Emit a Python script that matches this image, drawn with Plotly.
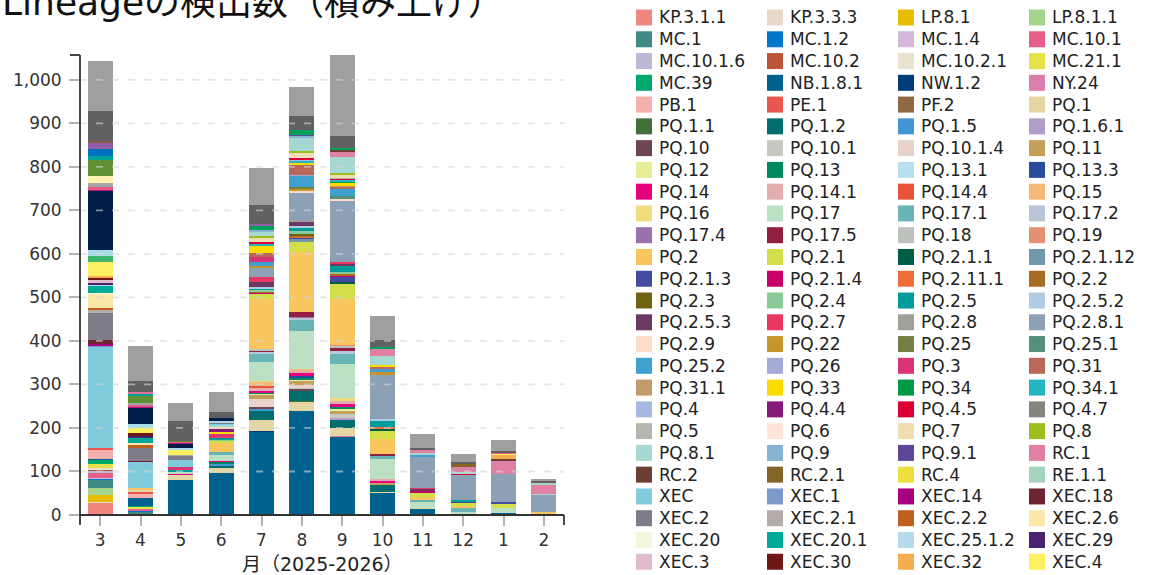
import plotly.graph_objects as go

# ---------------- data ----------------
months = ["3", "4", "5", "6", "7", "8", "9", "10", "11", "12", "1", "2"]

KP_3_1_1 = [29, 0, 0, 0, 0, 0, 0, 0, 0, 0, 0, 0]
KP_3_3_3 = [2, 0, 0, 0, 0, 0, 0, 0, 0, 0, 0, 0]
LP_8_1 = [15, 2, 0, 0, 0, 0, 0, 0, 0, 0, 0, 0]
LP_8_1_1 = [15, 2, 0, 0, 2, 0, 0, 0, 0, 0, 0, 0]
MC_1 = [21, 4, 0, 0, 0, 0, 0, 0, 0, 0, 0, 0]
MC_1_2 = [2, 3, 0, 0, 0, 0, 0, 0, 0, 0, 0, 0]
MC_1_4 = [1, 0, 0, 0, 0, 0, 0, 0, 0, 0, 0, 0]
MC_10_1 = [13, 4, 2, 0, 0, 0, 0, 0, 0, 0, 0, 0]
MC_10_1_6 = [2, 0, 0, 0, 0, 0, 0, 0, 0, 0, 0, 0]
MC_10_2 = [5, 0, 0, 0, 0, 0, 0, 0, 0, 0, 0, 0]
MC_10_2_1 = [4, 0, 0, 0, 0, 0, 0, 0, 0, 0, 0, 0]
MC_21_1 = [8, 4, 0, 2, 0, 0, 0, 0, 0, 0, 0, 0]
MC_39 = [10, 2, 0, 0, 0, 0, 0, 0, 0, 0, 0, 0]
NB_1_8_1 = [2, 18, 79, 94, 190, 240, 180, 52, 14, 2, 5, 0]
NW_1_2 = [0, 0, 0, 0, 2, 0, 0, 0, 0, 0, 0, 0]
NY_24 = [0, 0, 0, 0, 0, 0, 2, 0, 0, 0, 0, 0]
PB_1 = [22, 10, 0, 0, 0, 0, 0, 0, 0, 0, 0, 0]
PE_1 = [3, 5, 0, 0, 0, 0, 0, 0, 0, 0, 0, 0]
PF_2 = [0, 1, 0, 0, 0, 0, 0, 0, 0, 0, 0, 0]
PQ_1 = [1, 4, 11, 11, 25, 21, 17, 2, 3, 0, 0, 0]
PQ_1_1 = [0, 0, 0, 0, 0, 1, 0, 0, 0, 0, 0, 0]
PQ_1_2 = [0, 0, 0, 6, 19, 23, 19, 14, 0, 0, 0, 0]
PQ_1_5 = [0, 0, 0, 5, 6, 0, 0, 0, 0, 0, 0, 0]
PQ_1_6_1 = [0, 0, 0, 0, 0, 0, 6, 0, 0, 0, 0, 0]
PQ_10 = [0, 0, 0, 0, 4, 4, 0, 0, 0, 0, 0, 0]
PQ_10_1 = [0, 0, 0, 0, 0, 5, 8, 0, 0, 0, 0, 0]
PQ_10_1_4 = [0, 0, 0, 0, 18, 4, 0, 0, 0, 0, 0, 0]
PQ_11 = [0, 0, 0, 0, 10, 10, 8, 5, 0, 0, 0, 0]
PQ_12 = [0, 0, 0, 0, 3, 4, 5, 0, 0, 0, 0, 0]
PQ_13 = [0, 0, 0, 4, 3, 3, 3, 0, 0, 0, 0, 0]
PQ_13_1 = [0, 0, 0, 0, 0, 1, 0, 0, 0, 0, 0, 0]
PQ_13_3 = [0, 0, 0, 0, 0, 3, 0, 0, 0, 0, 0, 0]
PQ_14 = [0, 0, 2, 3, 4, 9, 7, 6, 0, 0, 0, 0]
PQ_14_1 = [0, 0, 0, 0, 6, 3, 7, 3, 0, 0, 0, 0]
PQ_14_4 = [0, 0, 0, 0, 4, 2, 0, 0, 0, 0, 0, 0]
PQ_15 = [0, 0, 0, 0, 11, 3, 0, 0, 0, 0, 0, 0]
PQ_16 = [0, 0, 0, 0, 2, 0, 6, 0, 0, 0, 0, 0]
PQ_17 = [0, 0, 7, 14, 42, 87, 78, 47, 15, 5, 11, 0]
PQ_17_1 = [0, 0, 0, 5, 21, 27, 25, 6, 3, 10, 0, 2]
PQ_17_2 = [0, 0, 0, 0, 2, 3, 6, 0, 0, 0, 0, 0]
PQ_17_4 = [0, 0, 0, 0, 0, 3, 0, 0, 0, 0, 0, 0]
PQ_17_5 = [0, 0, 0, 0, 5, 11, 7, 6, 0, 0, 0, 0]
PQ_18 = [0, 0, 0, 0, 3, 0, 5, 0, 0, 0, 0, 0]
PQ_19 = [0, 0, 0, 0, 0, 0, 1, 0, 0, 0, 0, 0]
PQ_2 = [0, 3, 0, 22, 115, 137, 107, 34, 6, 3, 0, 5]
PQ_2_1 = [0, 0, 0, 5, 11, 24, 34, 19, 9, 9, 10, 0]
PQ_2_1_1 = [0, 0, 0, 0, 0, 0, 5, 3, 0, 0, 0, 0]
PQ_2_1_12 = [0, 0, 0, 0, 0, 7, 0, 0, 0, 0, 0, 0]
PQ_2_1_3 = [0, 0, 0, 0, 0, 3, 10, 0, 0, 2, 5, 0]
PQ_2_1_4 = [0, 0, 0, 0, 3, 0, 5, 0, 5, 0, 0, 0]
PQ_2_11_1 = [0, 0, 0, 0, 0, 1, 0, 5, 0, 0, 0, 0]
PQ_2_2 = [0, 0, 0, 0, 2, 4, 2, 0, 0, 0, 0, 0]
PQ_2_3 = [0, 0, 0, 0, 0, 3, 0, 0, 0, 0, 0, 0]
PQ_2_4 = [0, 0, 0, 3, 5, 7, 5, 0, 0, 0, 0, 0]
PQ_2_5 = [0, 0, 3, 3, 3, 7, 14, 13, 0, 4, 0, 0]
PQ_2_5_2 = [0, 0, 0, 0, 3, 3, 0, 5, 0, 0, 0, 0]
PQ_2_5_3 = [0, 0, 0, 0, 11, 11, 5, 0, 5, 0, 0, 0]
PQ_2_7 = [0, 0, 3, 5, 11, 0, 4, 0, 3, 0, 0, 0]
PQ_2_8 = [0, 0, 0, 0, 0, 5, 0, 0, 0, 0, 0, 0]
PQ_2_8_1 = [0, 0, 0, 0, 22, 61, 140, 102, 71, 57, 63, 40]
PQ_2_9 = [0, 0, 0, 0, 0, 5, 7, 0, 0, 0, 0, 0]
PQ_22 = [0, 0, 0, 0, 5, 5, 0, 6, 0, 0, 0, 0]
PQ_25 = [0, 0, 0, 0, 0, 4, 0, 0, 0, 0, 0, 0]
PQ_25_1 = [0, 0, 0, 0, 0, 0, 4, 0, 0, 0, 0, 0]
PQ_25_2 = [0, 0, 0, 0, 8, 25, 17, 9, 3, 0, 0, 0]
PQ_26 = [0, 0, 0, 0, 0, 3, 0, 0, 0, 0, 0, 0]
PQ_3 = [0, 0, 3, 4, 12, 0, 0, 0, 0, 0, 0, 0]
PQ_31 = [0, 0, 0, 0, 10, 22, 6, 4, 0, 0, 0, 0]
PQ_31_1 = [0, 0, 0, 0, 0, 0, 1, 0, 0, 0, 0, 0]
PQ_33 = [0, 0, 0, 7, 16, 7, 6, 3, 0, 0, 0, 0]
PQ_34 = [0, 0, 0, 0, 0, 0, 5, 0, 0, 0, 0, 0]
PQ_34_1 = [0, 0, 0, 0, 4, 3, 3, 0, 0, 0, 0, 0]
PQ_4 = [0, 0, 0, 0, 0, 3, 0, 0, 0, 0, 0, 0]
PQ_4_4 = [0, 0, 0, 4, 0, 0, 0, 0, 0, 0, 0, 0]
PQ_4_5 = [0, 0, 0, 0, 4, 4, 3, 0, 0, 3, 0, 0]
PQ_4_7 = [0, 0, 0, 0, 0, 1, 0, 0, 0, 0, 0, 0]
PQ_5 = [0, 0, 0, 0, 0, 0, 1, 0, 0, 0, 0, 0]
PQ_6 = [0, 0, 0, 0, 0, 1, 0, 0, 0, 0, 0, 0]
PQ_7 = [0, 0, 0, 5, 9, 8, 7, 0, 0, 0, 0, 0]
PQ_8 = [0, 0, 0, 0, 5, 5, 5, 0, 0, 0, 0, 0]
PQ_8_1 = [0, 0, 0, 5, 10, 32, 37, 21, 6, 3, 0, 2]
PQ_9 = [0, 0, 0, 0, 3, 4, 0, 0, 0, 0, 0, 0]
PQ_9_1 = [0, 0, 0, 0, 0, 1, 0, 0, 0, 0, 0, 0]
RC_1 = [0, 0, 0, 0, 0, 0, 11, 17, 8, 13, 31, 21]
RC_2 = [0, 0, 0, 0, 0, 0, 5, 0, 0, 0, 4, 0]
RC_2_1 = [0, 0, 0, 0, 0, 0, 0, 0, 0, 6, 0, 0]
RC_4 = [0, 0, 0, 0, 0, 0, 0, 1, 0, 0, 0, 0]
RE_1_1 = [0, 0, 0, 0, 0, 0, 0, 0, 0, 0, 0, 4]
XEC = [233, 60, 17, 3, 0, 0, 0, 0, 0, 0, 0, 0]
XEC_1 = [1, 0, 0, 0, 0, 0, 0, 0, 0, 0, 0, 0]
XEC_14 = [5, 0, 0, 0, 0, 0, 0, 0, 0, 0, 0, 0]
XEC_18 = [7, 3, 0, 0, 0, 0, 0, 0, 0, 0, 0, 0]
XEC_2 = [64, 28, 9, 2, 0, 0, 0, 0, 0, 0, 0, 0]
XEC_2_1 = [5, 0, 3, 0, 0, 0, 0, 0, 0, 0, 0, 0]
XEC_2_2 = [6, 7, 0, 0, 0, 0, 0, 0, 0, 0, 0, 0]
XEC_2_6 = [34, 5, 0, 0, 0, 0, 0, 0, 0, 0, 0, 0]
XEC_20 = [1, 0, 0, 0, 0, 0, 0, 0, 0, 0, 0, 0]
XEC_20_1 = [16, 14, 0, 0, 0, 0, 0, 0, 0, 0, 0, 0]
XEC_25_1_2 = [1, 0, 0, 0, 0, 0, 0, 0, 0, 0, 0, 0]
XEC_29 = [7, 2, 0, 0, 0, 0, 0, 0, 0, 0, 0, 0]
XEC_3 = [4, 0, 0, 0, 0, 0, 0, 0, 0, 0, 0, 0]
XEC_30 = [7, 7, 0, 0, 0, 0, 0, 0, 0, 0, 0, 0]
XEC_32 = [4, 0, 0, 0, 0, 0, 0, 0, 0, 0, 10, 0]
XEC_4 = [32, 13, 12, 0, 0, 0, 0, 0, 0, 0, 2, 0]
# lineages whose legend rows fall below the visible window
XEC_5 = [14, 0, 0, 0, 0, 0, 0, 0, 0, 0, 0, 0]
XEC_6 = [14, 7, 3, 3, 0, 0, 0, 0, 0, 0, 0, 0]
XEC_8 = [135, 38, 10, 8, 0, 0, 0, 0, 0, 0, 0, 0]
XEC_9 = [4, 4, 2, 0, 0, 0, 0, 0, 0, 0, 0, 0]
XEK = [4, 4, 2, 0, 0, 0, 0, 0, 0, 0, 3, 0]
XEQ = [11, 3, 0, 0, 0, 0, 0, 0, 0, 0, 0, 0]
XER = [14, 0, 0, 0, 0, 0, 0, 0, 0, 0, 0, 0]
XFB = [38, 18, 3, 0, 0, 0, 0, 0, 0, 0, 0, 0]
XFC = [10, 3, 0, 0, 0, 0, 0, 0, 0, 0, 0, 0]
XFG = [16, 0, 0, 0, 0, 0, 0, 0, 0, 0, 0, 0]
XFG_1 = [0, 0, 0, 0, 11, 11, 5, 3, 0, 0, 0, 0]
XFG_2 = [13, 0, 0, 0, 3, 0, 0, 0, 0, 0, 0, 0]
XFG_3 = [5, 0, 0, 0, 0, 0, 0, 0, 0, 0, 0, 0]
XFJ = [0, 5, 0, 0, 0, 0, 0, 0, 0, 0, 0, 0]
XFV = [69, 25, 45, 13, 44, 33, 28, 15, 4, 5, 4, 4]
OTHERS = [115, 80, 42, 46, 85, 67, 185, 56, 31, 18, 25, 5]

series = [
    ("KP.3.1.1", KP_3_1_1), ("KP.3.3.3", KP_3_3_3), ("LP.8.1", LP_8_1), ("LP.8.1.1", LP_8_1_1),
    ("MC.1", MC_1), ("MC.1.2", MC_1_2), ("MC.1.4", MC_1_4), ("MC.10.1", MC_10_1),
    ("MC.10.1.6", MC_10_1_6), ("MC.10.2", MC_10_2), ("MC.10.2.1", MC_10_2_1), ("MC.21.1", MC_21_1),
    ("MC.39", MC_39), ("NB.1.8.1", NB_1_8_1), ("NW.1.2", NW_1_2), ("NY.24", NY_24),
    ("PB.1", PB_1), ("PE.1", PE_1), ("PF.2", PF_2), ("PQ.1", PQ_1),
    ("PQ.1.1", PQ_1_1), ("PQ.1.2", PQ_1_2), ("PQ.1.5", PQ_1_5), ("PQ.1.6.1", PQ_1_6_1),
    ("PQ.10", PQ_10), ("PQ.10.1", PQ_10_1), ("PQ.10.1.4", PQ_10_1_4), ("PQ.11", PQ_11),
    ("PQ.12", PQ_12), ("PQ.13", PQ_13), ("PQ.13.1", PQ_13_1), ("PQ.13.3", PQ_13_3),
    ("PQ.14", PQ_14), ("PQ.14.1", PQ_14_1), ("PQ.14.4", PQ_14_4), ("PQ.15", PQ_15),
    ("PQ.16", PQ_16), ("PQ.17", PQ_17), ("PQ.17.1", PQ_17_1), ("PQ.17.2", PQ_17_2),
    ("PQ.17.4", PQ_17_4), ("PQ.17.5", PQ_17_5), ("PQ.18", PQ_18), ("PQ.19", PQ_19),
    ("PQ.2", PQ_2), ("PQ.2.1", PQ_2_1), ("PQ.2.1.1", PQ_2_1_1), ("PQ.2.1.12", PQ_2_1_12),
    ("PQ.2.1.3", PQ_2_1_3), ("PQ.2.1.4", PQ_2_1_4), ("PQ.2.11.1", PQ_2_11_1), ("PQ.2.2", PQ_2_2),
    ("PQ.2.3", PQ_2_3), ("PQ.2.4", PQ_2_4), ("PQ.2.5", PQ_2_5), ("PQ.2.5.2", PQ_2_5_2),
    ("PQ.2.5.3", PQ_2_5_3), ("PQ.2.7", PQ_2_7), ("PQ.2.8", PQ_2_8), ("PQ.2.8.1", PQ_2_8_1),
    ("PQ.2.9", PQ_2_9), ("PQ.22", PQ_22), ("PQ.25", PQ_25), ("PQ.25.1", PQ_25_1),
    ("PQ.25.2", PQ_25_2), ("PQ.26", PQ_26), ("PQ.3", PQ_3), ("PQ.31", PQ_31),
    ("PQ.31.1", PQ_31_1), ("PQ.33", PQ_33), ("PQ.34", PQ_34), ("PQ.34.1", PQ_34_1),
    ("PQ.4", PQ_4), ("PQ.4.4", PQ_4_4), ("PQ.4.5", PQ_4_5), ("PQ.4.7", PQ_4_7),
    ("PQ.5", PQ_5), ("PQ.6", PQ_6), ("PQ.7", PQ_7), ("PQ.8", PQ_8),
    ("PQ.8.1", PQ_8_1), ("PQ.9", PQ_9), ("PQ.9.1", PQ_9_1), ("RC.1", RC_1),
    ("RC.2", RC_2), ("RC.2.1", RC_2_1), ("RC.4", RC_4), ("RE.1.1", RE_1_1),
    ("XEC", XEC), ("XEC.1", XEC_1), ("XEC.14", XEC_14), ("XEC.18", XEC_18),
    ("XEC.2", XEC_2), ("XEC.2.1", XEC_2_1), ("XEC.2.2", XEC_2_2), ("XEC.2.6", XEC_2_6),
    ("XEC.20", XEC_20), ("XEC.20.1", XEC_20_1), ("XEC.25.1.2", XEC_25_1_2), ("XEC.29", XEC_29),
    ("XEC.3", XEC_3), ("XEC.30", XEC_30), ("XEC.32", XEC_32), ("XEC.4", XEC_4),
    ("XEC.5", XEC_5), ("XEC.6", XEC_6), ("XEC.8", XEC_8), ("XEC.9", XEC_9),
    ("XEK", XEK), ("XEQ", XEQ), ("XER", XER), ("XFB", XFB),
    ("XFC", XFC), ("XFG", XFG), ("XFG.1", XFG_1), ("XFG.2", XFG_2),
    ("XFG.3", XFG_3), ("XFJ", XFJ), ("XFV", XFV), ("その他", OTHERS),
]

colors = [
    "#F0877F", "#E8DACB", "#E8BC00", "#A6D48C",
    "#3F8A86", "#0076C8", "#D3B8DA", "#E8608A",
    "#BAB8D2", "#BA5538", "#EAE2D0", "#E6E34A",
    "#00A86A", "#00608E", "#003C78", "#DA7EAE",
    "#F4B0AC", "#EA5550", "#8E6A44", "#E3D6A2",
    "#417138", "#006D6E", "#4296D4", "#B29CCA",
    "#6E4652", "#C8C8C2", "#E8D2CA", "#C4A05C",
    "#E8EE98", "#00885E", "#B8E0F0", "#284C9C",
    "#E4007E", "#E2ADAE", "#E8543A", "#F6B878",
    "#F0DE7E", "#BCE0C4", "#68B4B6", "#B8C6D8",
    "#9A72B2", "#921E40", "#BEC2BC", "#E49272",
    "#F8C65C", "#D2DE4A", "#005E46", "#7098AA",
    "#434CA0", "#C8006A", "#EE6E36", "#A96A24",
    "#6E6410", "#8ACA98", "#009C9C", "#B0CCE4",
    "#6A3862", "#EA3662", "#A0A098", "#8CA0B6",
    "#FCDCCA", "#C6962E", "#767E42", "#54907C",
    "#40A0D0", "#A4AAD6", "#D83476", "#BC6858",
    "#C49A6C", "#FCDC00", "#009A46", "#24B6C0",
    "#A4B8E0", "#861A78", "#DA0034", "#86867E",
    "#B6B6AE", "#FCE4D8", "#EEDEB2", "#9EBE1E",
    "#A4D8D0", "#88B4D4", "#5E4698", "#E080A4",
    "#6E3E34", "#846428", "#EEDE40", "#A2D4BE",
    "#80CCDC", "#7E9ACC", "#A80080", "#6E2430",
    "#7E7C88", "#B4ACAA", "#BE6020", "#FCE8A8",
    "#F2F8DC", "#00AA98", "#B8D8F0", "#4A2470",
    "#E0BCCC", "#6E1818", "#F4AE50", "#FCF060",
    "#3DB56F", "#A9DCE6", "#021E48", "#B0177A",
    "#E35B86", "#A6A6A6", "#FFF2B3", "#5E9232",
    "#00A19A", "#006FBE", "#00A05A", "#8F5EA6",
    "#8B5A45", "#E0709A", "#616163", "#A09F9D",
]

ytick_values = [0, 100, 200, 300, 400, 500, 600, 700, 800, 900, 1000]
title_text = "Lineageの検出数（積み上げ）"
xaxis_title = "月（2025-2026）"

# ---------------- layout constants ----------------
W, H = 1157, 575
ML, MR, MT, MB = 80, 593, 55, 60
PW = W - ML - MR
PH = H - MT - MB
FONT = "DejaVu Sans, Noto Sans CJK JP, sans-serif"
AXIS_COLOR = "#333333"
TICK_COLOR = "#b4b4b4"

LEG_X0 = 636       # swatch left of first column (px)
LEG_COL = 131      # column pitch (px)
LEG_Y0 = 17.5      # centre of first row (px)
LEG_ROW = 21.77    # row pitch (px)
LEG_COLS = 4
LEG_SW = 16
LEG_ROWS_VISIBLE = 26


def px_to_paper_x(px):
    return (px - ML) / PW


def px_to_paper_y(py):
    return (H - MB - py) / PH


fig = go.Figure()
for (name, vals), col in zip(series, colors):
    fig.add_trace(go.Bar(
        x=months, y=vals, name=name,
        marker=dict(color=col, line=dict(width=0)),
        showlegend=False,
        hovertemplate=name + ": %{y}<extra></extra>",
    ))

totals = [sum(v[i] for _, v in series) for i in range(len(months))]
ymax = max(totals)

shapes = []
# dashed grid lines drawn above the bars
for v in ytick_values[1:]:
    shapes.append(dict(type="line", xref="paper", x0=0, x1=1, yref="y", y0=v, y1=v,
                       layer="above",
                       line=dict(color="rgba(214,214,214,0.6)", width=1.8, dash="7px,9px")))
# axis domain lines with outer ticks
ax_line = dict(color=AXIS_COLOR, width=1.8)
shapes += [
    dict(type="line", xref="paper", yref="paper", x0=0, x1=0, y0=0, y1=1, line=ax_line),
    dict(type="line", xref="paper", yref="paper", x0=0, x1=1, y0=0, y1=0, line=ax_line),
    dict(type="line", xref="paper", yref="paper", xsizemode="pixel", xanchor=0,
         x0=-10, x1=0, y0=1, y1=1, line=ax_line),
    dict(type="line", xref="paper", yref="paper", ysizemode="pixel", yanchor=0,
         x0=0, x1=0, y0=0, y1=-10, line=ax_line),
    dict(type="line", xref="paper", yref="paper", ysizemode="pixel", yanchor=0,
         x0=1, x1=1, y0=0, y1=-10, line=ax_line),
]

annotations = [
    dict(text=xaxis_title, xref="paper", yref="paper", x=0.5,
         y=px_to_paper_y(564), xanchor="center", yanchor="middle", showarrow=False,
         font=dict(family=FONT, size=19, color="#222")),
]

# legend (visible rows only; remaining rows fall below the window)
for i, ((name, _), col) in enumerate(zip(series, colors)):
    r, c = divmod(i, LEG_COLS)
    if r >= LEG_ROWS_VISIBLE:
        break
    cx = LEG_X0 + c * LEG_COL
    cy = LEG_Y0 + r * LEG_ROW
    shapes.append(dict(type="rect", xref="paper", yref="paper",
                       x0=px_to_paper_x(cx), x1=px_to_paper_x(cx + LEG_SW),
                       y0=px_to_paper_y(cy - LEG_SW / 2), y1=px_to_paper_y(cy + LEG_SW / 2),
                       fillcolor=col, line=dict(width=0)))
    annotations.append(dict(text=name, xref="paper", yref="paper",
                            x=px_to_paper_x(cx + LEG_SW + 5), y=px_to_paper_y(cy),
                            xanchor="left", yanchor="middle", showarrow=False,
                            font=dict(family=FONT, size=17, color="#222")))

fig.update_layout(
    width=W, height=H, autosize=False,
    margin=dict(l=ML, r=MR, t=MT, b=MB, pad=0, autoexpand=False),
    paper_bgcolor="white", plot_bgcolor="white",
    barmode="stack", bargap=0.38,
    showlegend=False,
    title=dict(text=title_text, xref="container", yref="container",
               x=2 / W, xanchor="left", y=(H - 15) / H, yanchor="bottom",
               font=dict(family=FONT, size=36, color="#111")),
    font=dict(family=FONT, color="#333"),
    xaxis=dict(type="category", categoryorder="array", categoryarray=months,
               showgrid=False, zeroline=False, showline=False,
               ticks="outside", ticklen=10, tickwidth=1.5, tickcolor=TICK_COLOR,
               tickfont=dict(family=FONT, size=17, color="#333")),
    yaxis=dict(range=[0, ymax], tickvals=ytick_values, tickformat=",",
               showgrid=False, zeroline=False, showline=False,
               ticks="outside", ticklen=10, tickwidth=1.5, tickcolor=TICK_COLOR,
               ticklabelstandoff=4,
               tickfont=dict(family=FONT, size=17, color="#333")),
    shapes=shapes,
    annotations=annotations,
)

fig.write_html("out.html", include_plotlyjs=True, full_html=True,
               config={"displayModeBar": False},
               post_script="document.body.style.margin='0';document.body.style.overflow='hidden';")
